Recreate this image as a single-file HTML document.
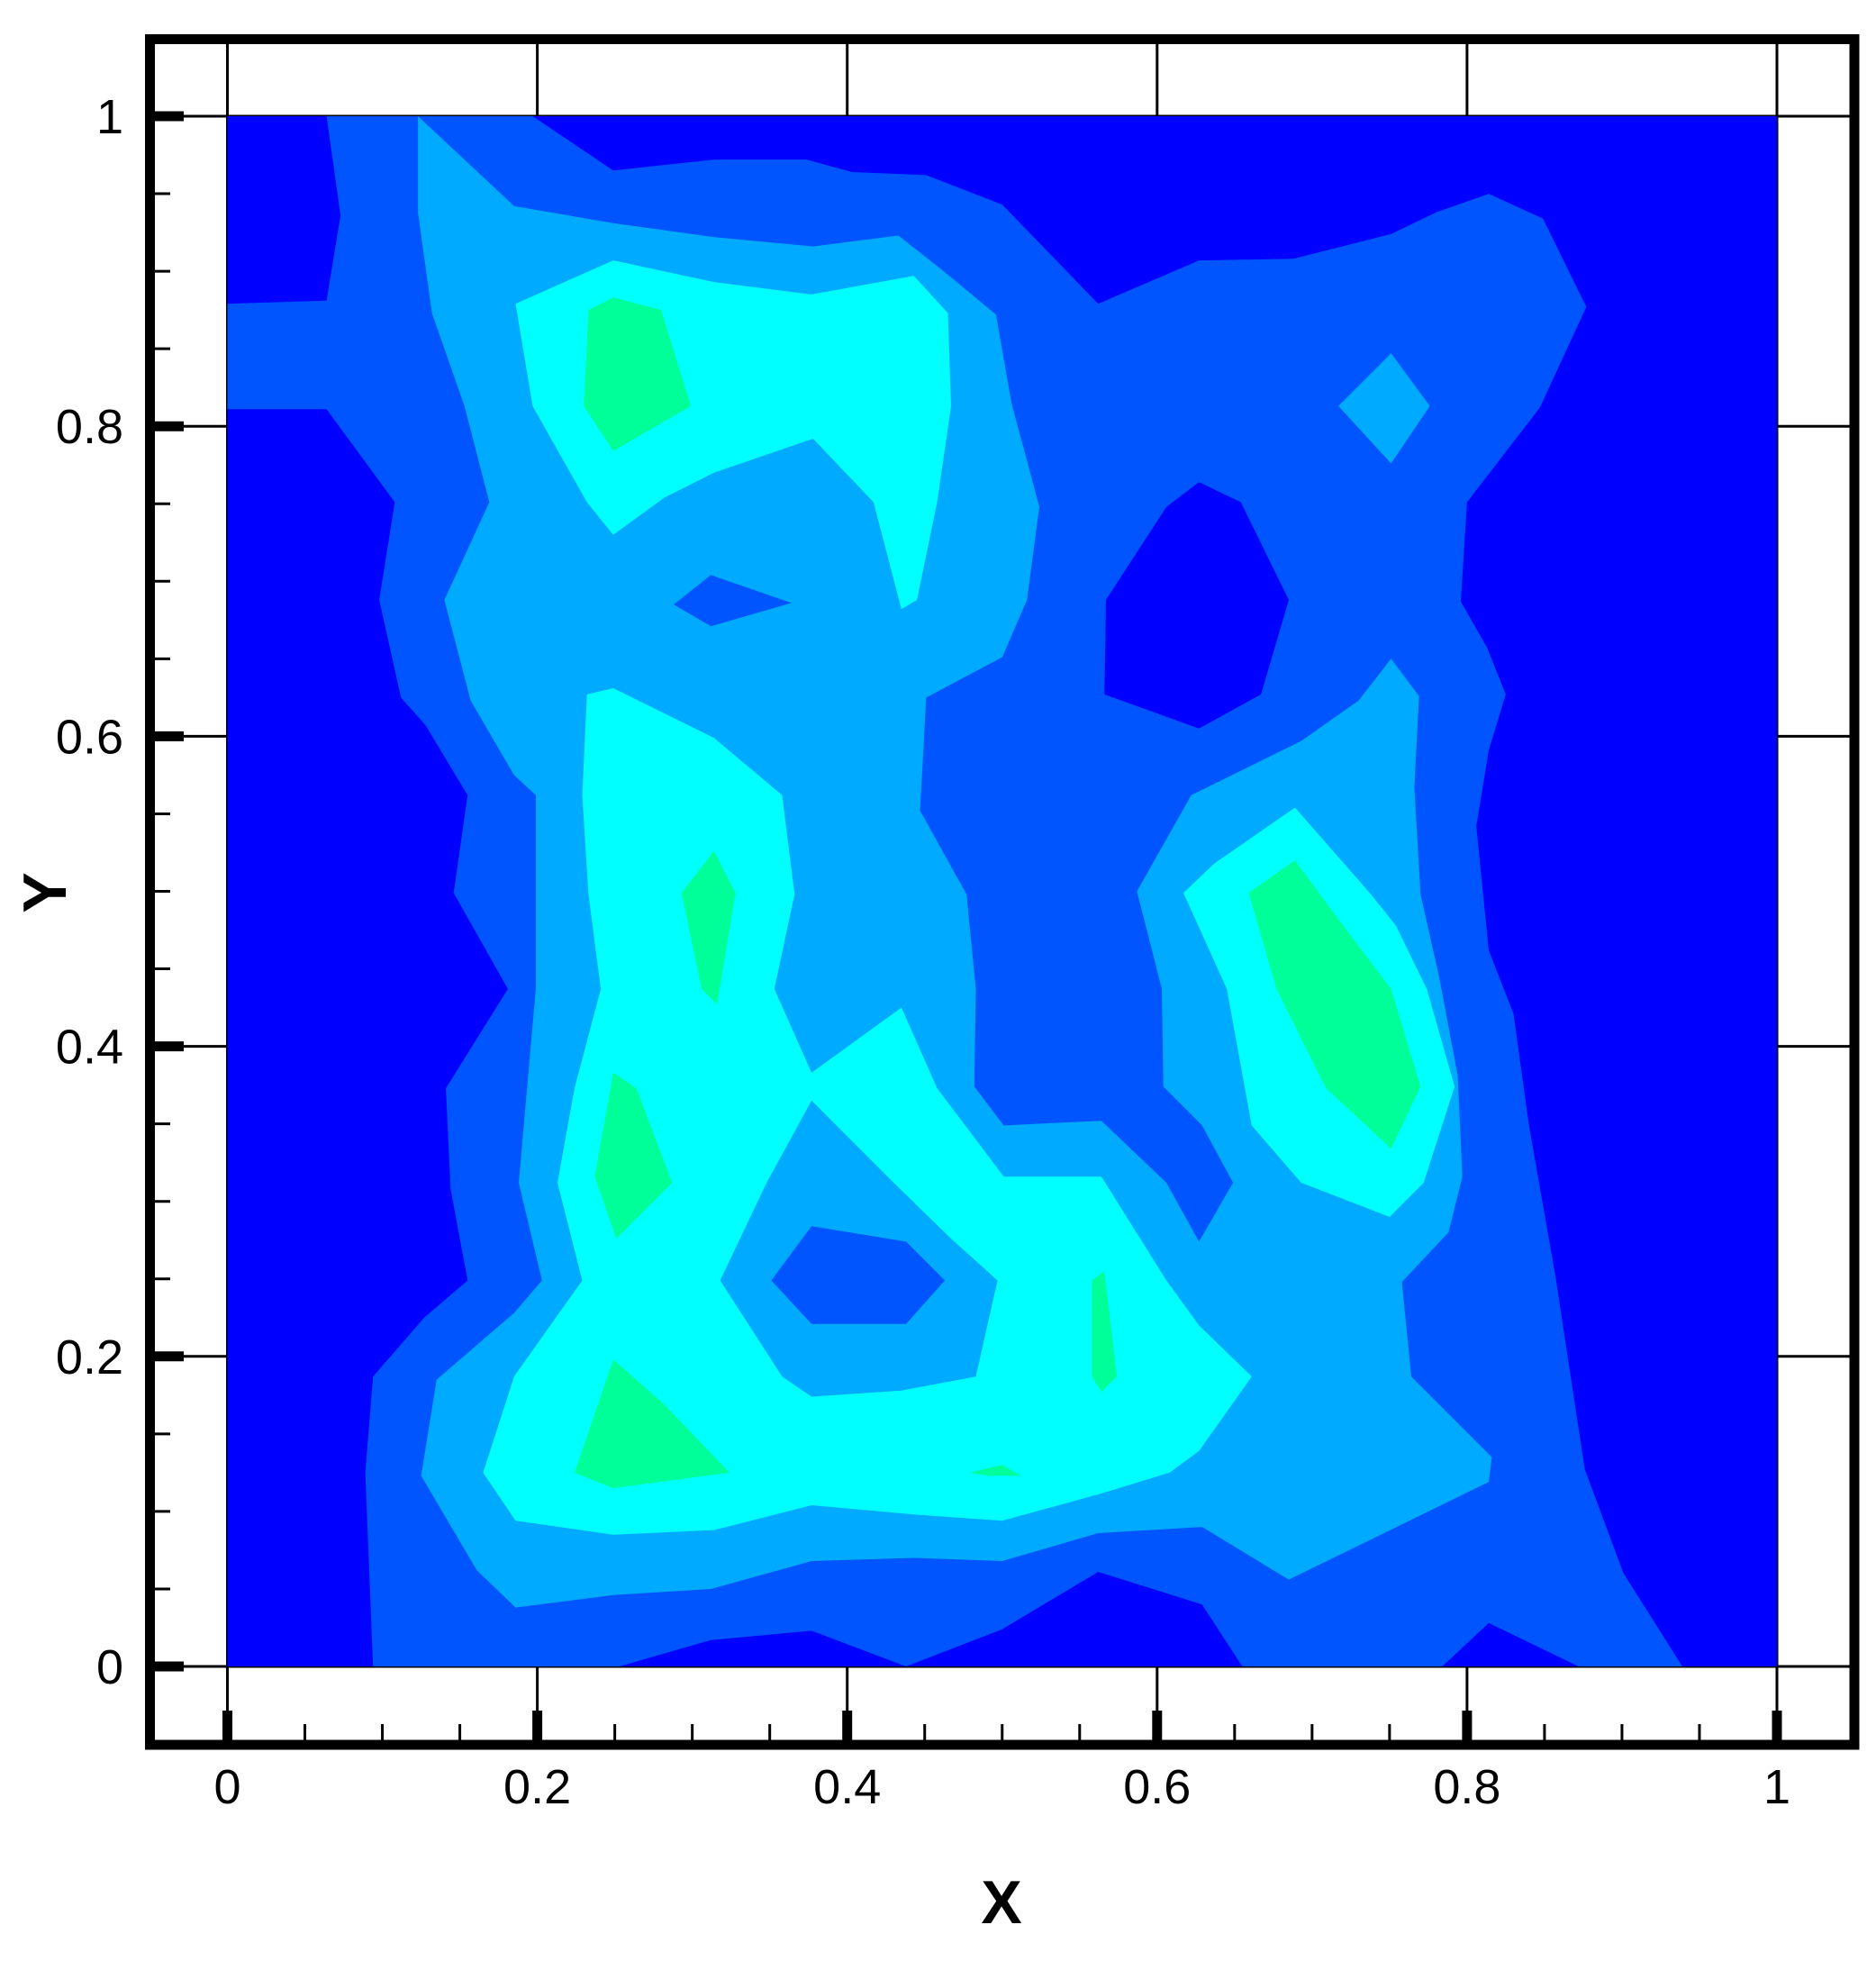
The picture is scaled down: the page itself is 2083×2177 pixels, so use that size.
<!DOCTYPE html>
<html><head><meta charset="utf-8"><style>html,body{margin:0;padding:0;background:#fff}svg{display:block}</style></head>
<body>
<svg id="chart" width="2083" height="2177" viewBox="0 0 2083 2177" xmlns="http://www.w3.org/2000/svg">
<g id="grid"></g>
<g id="contours"></g>
<g id="axes"></g>
<text x="1112" y="2135" font-family="Liberation Sans, sans-serif" font-weight="bold" font-size="68" text-anchor="middle">X</text>
<text transform="translate(73,991) rotate(-90)" font-family="Liberation Sans, sans-serif" font-weight="bold" font-size="68" text-anchor="middle">Y</text>
</svg>
<script>
const xTicks=[0,0.2,0.4,0.6,0.8,1];
const yTicks=[0,0.2,0.4,0.6,0.8,1];
const tickLabels=["0","0.2","0.4","0.6","0.8","1"];
const levelColors=["#0000FF","#0055FF","#00AAFF","#00FFFF","#00FF99"];
// contour regions in data coordinates, painted in order
const lvl2Outer=[[.064,1],[.073,.936],[.064,.881],[0,.879],[0,.811],[.064,.811],[.108,.751],[.098,.688],[.112,.625],[.128,.607],[.155,.562],[.146,.499],[.181,.437],[.141,.373],[.144,.308],[.155,.249],[.127,.225],[.094,.187],[.089,.125],[.094,0],[.253,0],[.312,.017],[.377,.023],[.438,0],[.5,.024],[.562,.061],[.629,.04],[.655,0],[.784,0],[.814,.028],[.872,0],[.939,0],[.901,.06],[.876,.127],[.857,.252],[.84,.349],[.83,.421],[.814,.462],[.806,.542],[.814,.591],[.825,.627],[.813,.657],[.796,.687],[.8,.751],[.847,.812],[.877,.877],[.849,.934],[.814,.95],[.78,.938],[.751,.924],[.688,.908],[.627,.907],[.562,.879],[.5,.943],[.451,.962],[.403,.964],[.374,.972],[.314,.972],[.249,.965],[.197,1]];
const lvl1Hole=[[.627,.764],[.654,.751],[.685,.688],[.667,.627],[.627,.605],[.566,.627],[.567,.688],[.606,.748]];
const lvl3Outer=[[.123,1],[.185,.942],[.249,.931],[.314,.922],[.378,.916],[.433,.923],[.461,.901],[.496,.872],[.506,.815],[.524,.748],[.516,.688],[.5,.651],[.451,.625],[.447,.552],[.477,.498],[.483,.437],[.482,.374],[.501,.349],[.564,.352],[.606,.312],[.627,.274],[.649,.312],[.629,.349],[.604,.374],[.603,.437],[.587,.5],[.622,.562],[.693,.597],[.73,.623],[.751,.65],[.769,.626],[.766,.567],[.77,.498],[.782,.445],[.794,.381],[.797,.316],[.788,.28],[.758,.248],[.764,.187],[.816,.135],[.814,.119],[.685,.056],[.629,.09],[.562,.086],[.5,.068],[.443,.07],[.377,.068],[.312,.05],[.249,.046],[.186,.038],[.161,.062],[.125,.123],[.135,.185],[.185,.228],[.203,.249],[.188,.312],[.193,.369],[.199,.437],[.199,.562],[.185,.575],[.157,.623],[.14,.688],[.169,.751],[.153,.813],[.132,.873],[.123,.938]];
const lvl2HoleA=[[.288,.685],[.312,.704],[.364,.686],[.312,.671]];
const lvl3Island=[[.717,.813],[.751,.847],[.776,.813],[.751,.776]];
const lvl4Top=[[.186,.879],[.249,.907],[.314,.893],[.377,.885],[.443,.897],[.465,.873],[.467,.813],[.458,.751],[.445,.688],[.435,.682],[.417,.751],[.378,.792],[.314,.77],[.282,.754],[.249,.73],[.232,.751],[.197,.813]];
const lvl4Low=[[.232,.627],[.249,.631],[.314,.599],[.358,.562],[.366,.498],[.353,.437],[.377,.383],[.435,.425],[.458,.373],[.501,.316],[.564,.316],[.606,.249],[.627,.22],[.661,.187],[.627,.139],[.608,.125],[.562,.111],[.5,.094],[.443,.098],[.377,.104],[.314,.088],[.249,.085],[.186,.094],[.165,.125],[.185,.187],[.229,.249],[.213,.312],[.224,.373],[.241,.437],[.233,.498],[.229,.562]];
const lvl3Inner=[[.377,.365],[.43,.312],[.467,.276],[.497,.249],[.483,.187],[.435,.178],[.377,.174],[.358,.187],[.318,.249],[.348,.312]];
const lvl2Inner=[[.351,.249],[.377,.284],[.438,.274],[.463,.249],[.438,.221],[.377,.221]];
const lvl4Right=[[.617,.499],[.637,.518],[.689,.554],[.738,.498],[.754,.478],[.774,.437],[.792,.374],[.772,.312],[.75,.29],[.693,.312],[.661,.349],[.645,.437]];
const lvl5A=[[.233,.875],[.249,.883],[.28,.875],[.299,.813],[.249,.784],[.23,.813]];
const lvl5B=[[.293,.499],[.314,.526],[.328,.499],[.316,.427],[.306,.437]];
const lvl5C=[[.237,.316],[.249,.383],[.264,.373],[.287,.312],[.251,.276]];
const lvl5D=[[.224,.125],[.249,.198],[.282,.169],[.324,.125],[.249,.115]];
const lvl5E=[[.558,.249],[.566,.255],[.574,.187],[.564,.177],[.558,.187]];
const lvl5F=[[.479,.125],[.5,.13],[.512,.123],[.491,.123]];
const lvl5G=[[.659,.499],[.689,.52],[.717,.482],[.751,.437],[.77,.374],[.751,.334],[.709,.373],[.677,.437]];

const X0=252.5,X1=1973,Y0=1850,Y1=129;
const sx=v=>X0+v*(X1-X0);
const sy=v=>Y0-v*(Y0-Y1);
const NS="http://www.w3.org/2000/svg";
function mk(tag,attrs,parent){const e=document.createElementNS(NS,tag);for(const k in attrs)e.setAttribute(k,attrs[k]);parent.appendChild(e);return e;}
const grid=document.getElementById('grid'),cont=document.getElementById('contours'),axes=document.getElementById('axes');
const FL=172,FR=2054,FT=49,FB=1932;
xTicks.forEach(t=>{const l=mk('line',{x1:sx(t),x2:sx(t),y1:FT,y2:FB,stroke:'#000','stroke-width':3},grid);

});
yTicks.forEach(t=>{const l=mk('line',{x1:FL,x2:FR,y1:sy(t),y2:sy(t),stroke:'#000','stroke-width':3},grid);

});
const bg=mk('rect',{x:sx(0),y:sy(1),width:sx(1)-sx(0),height:sy(0)-sy(1),fill:levelColors[0]},cont);


const regions=[[lvl2Outer,1],[lvl1Hole,0],[lvl3Outer,2],[lvl2HoleA,1],[lvl3Island,2],[lvl4Top,3],[lvl4Low,3],[lvl3Inner,2],[lvl2Inner,1],[lvl4Right,3],[lvl5A,4],[lvl5B,4],[lvl5C,4],[lvl5D,4],[lvl5E,4],[lvl5F,4],[lvl5G,4]];
regions.forEach(([pts,lv])=>{const p=mk('polygon',{points:pts.map(q=>sx(q[0]).toFixed(1)+','+sy(q[1]).toFixed(1)).join(' '),fill:levelColors[lv]},cont);

});
// frame
const fr=mk('rect',{x:166.5,y:43.5,width:1892.5,height:1893.5,fill:'none',stroke:'#000','stroke-width':11},axes);


for(let i=0;i<=20;i++){const v=i/20,major=i%4===0;
 const ly=mk('line',{x1:FL-5,x2:major?204:189,y1:sy(v),y2:sy(v),stroke:'#000','stroke-width':major?11:3},axes);
 
 
 const lx=mk('line',{x1:sx(v),x2:sx(v),y1:FB+5,y2:major?1899:1914,stroke:'#000','stroke-width':major?11:3},axes);
 
 }
xTicks.forEach((t,i)=>{const e=mk('text',{x:sx(t),y:2002,'font-family':'Liberation Sans, sans-serif','font-size':54,'text-anchor':'middle'},axes);e.textContent=tickLabels[i];

});
yTicks.forEach((t,i)=>{const e=mk('text',{x:137,y:sy(t)+19,'font-family':'Liberation Sans, sans-serif','font-size':54,'text-anchor':'end'},axes);e.textContent=tickLabels[i];

});
</script>
</body></html>
